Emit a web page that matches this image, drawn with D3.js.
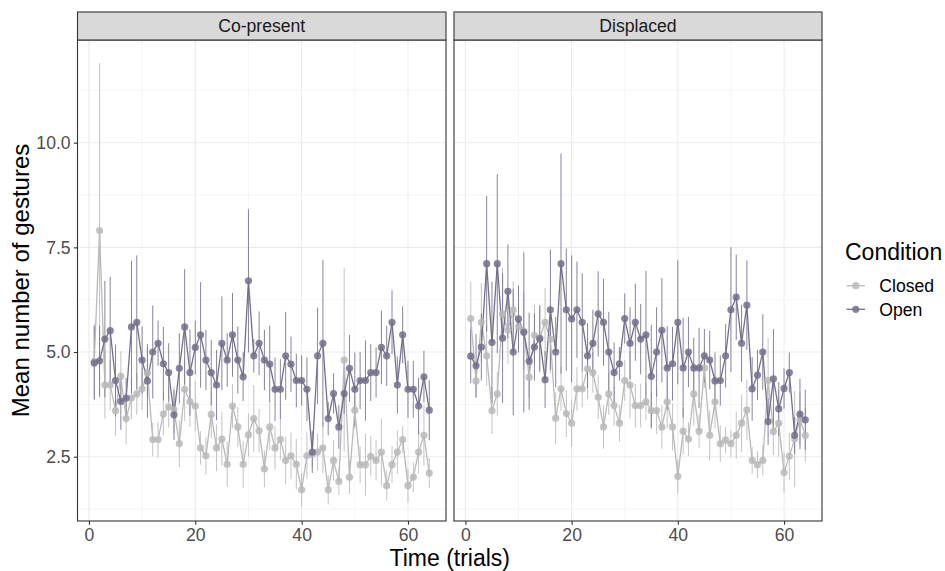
<!DOCTYPE html>
<html><head><meta charset="utf-8">
<script src="https://cdn.jsdelivr.net/npm/d3@7"></script>
<style>body{margin:0;background:#fff} text{font-family:"Liberation Sans",Arial,Helvetica,sans-serif}</style>
</head><body><svg id="c" width="945" height="571"></svg>
<script>
const trials = [1,2,3,4,5,6,7,8,9,10,11,12,13,14,15,16,17,18,19,20,21,22,23,24,25,26,27,28,29,30,31,32,
  33,34,35,36,37,38,39,40,41,42,43,44,45,46,47,48,49,50,51,52,53,54,55,56,57,58,59,60,61,62,63,64];
const panels = ["Co-present", "Displaced"];
const conditions = ["Closed", "Open"];
const xTicks = [0, 20, 40, 60];
const yTicks = [2.5, 5.0, 7.5, 10.0];

const copresentOpen = [4.74,4.79,5.31,5.51,4.32,3.82,3.90,5.60,5.71,4.81, 4.31,5.00,5.21,4.72,4.51,3.50,4.61,5.60,4.51,5.11,
  5.41,4.81,4.51,4.21,5.21,4.81,5.41,4.81,4.41,6.70, 4.91,5.21,4.81,4.71,4.11,4.11,4.91,4.71,4.32,4.32,
  4.11,2.61,4.91,5.21,3.41,4.01,3.21,4.01,4.61,4.11, 4.32,4.32,4.51,4.51,5.11,4.91,5.71,4.21,5.41,4.11, 4.11,3.71,4.41,3.61];
const copresentOpenErr = [0.88,0.84,1.39,1.29,0.86,0.68,0.48,1.58,1.60,0.80, 0.88,1.11,0.54,0.88,0.70,0.60,0.84,1.38,1.03,0.64,
  1.26,0.72,0.78,0.84,1.12,0.64,1.00,0.80,0.58,1.71, 0.40,0.76,0.72,0.92,0.76,0.72,1.05,0.66,0.64,0.60,
  0.76,0.50,1.15,1.99,0.40,0.48,0.52,0.48,0.80,0.88, 0.68,0.96,0.68,0.60,0.88,0.72,0.76,0.68,0.68,0.68, 0.68,0.68,0.62,0.72];
const copresentClosed = [4.78,7.90,4.21,4.21,3.60,4.42,3.41,3.90,4.00,4.12, 4.50,2.91,2.91,3.52,3.69,3.62,2.81,4.11,3.81,3.71,
  2.71,2.52,3.51,2.71,2.92,2.32,3.71,3.21,2.32,3.02, 3.41,3.12,2.21,3.21,2.71,2.91,2.41,2.52,2.32,1.71,
  2.52,2.56,2.61,2.71,1.71,2.41,1.91,4.81,2.01,3.61, 2.31,2.31,2.51,2.41,2.61,1.81,2.31,2.61,2.91,1.81, 2.01,2.61,3.01,2.11];
const copresentClosedErr = [0.90,4.00,0.80,0.60,0.60,0.60,0.62,0.50,0.50,0.50, 0.60,0.40,0.42,0.50,0.50,0.56,0.56,0.76,0.60,0.60,
  0.40,0.44,0.56,0.56,0.64,0.54,0.52,0.48,0.56,0.52, 0.80,0.52,0.44,0.56,0.52,0.48,0.56,0.56,0.60,0.40,
  0.56,0.32,0.44,0.60,0.35,0.48,0.32,2.19,0.40,0.44, 0.44,0.74,0.48,0.48,0.80,0.36,0.44,0.52,0.32,0.40, 0.36,0.52,0.72,0.36];
const displacedOpen = [4.90,4.67,5.12,7.11,5.23,7.11,5.33,6.45,5.00,5.79, 5.47,4.78,5.12,5.32,4.34,6.01,5.00,7.11,6.01,5.79,
  6.01,5.71,4.91,5.21,5.91,5.71,5.00,4.51,4.72,5.80, 5.21,5.71,5.31,5.41,4.42,5.00,5.52,4.62,4.72,5.71,
  4.62,5.00,4.62,4.62,4.91,4.81,4.31,4.32,4.91,6.01, 6.31,5.21,6.12,4.12,4.45,5.00,3.34,4.36,3.64,4.13, 4.51,3.01,3.52,3.38];
const displacedOpenErr = [0.64,0.76,0.80,1.62,1.45,2.14,1.55,1.12,1.51,0.80, 1.91,1.16,0.80,0.80,0.68,1.44,0.84,2.63,1.46,1.52,
  1.15,1.17,0.78,0.80,1.02,1.04,0.96,0.72,0.40,0.60, 0.86,0.92,0.84,1.53,1.23,1.07,1.25,1.00,0.88,1.48,
  1.19,0.84,0.72,0.96,0.64,0.70,0.68,0.60,0.76,1.49, 1.02,0.92,1.07,0.76,0.60,0.90,0.56,1.19,0.64,0.48, 0.48,0.44,0.84,0.72];
const displacedClosed = [5.80,4.31,5.71,4.91,3.60,4.00,5.91,5.52,6.01,5.60, 5.50,4.40,5.40,5.33,5.71,5.31,3.42,4.12,3.53,3.30,
  4.12,4.12,4.60,4.51,3.92,3.21,4.00,3.72,3.30,4.32, 4.21,3.72,3.72,3.81,3.60,3.60,3.21,3.81,3.21,2.03,
  3.11,2.92,4.00,3.11,4.62,3.01,3.81,2.81,2.90,2.81, 3.01,3.30,3.62,2.41,2.31,2.41,4.32,3.10,3.30,2.12, 2.51,2.92,3.40,3.01];
const displacedClosedErr = [0.88,0.40,0.94,0.72,0.56,0.52,1.10,0.80,0.68,0.56, 0.92,0.48,0.72,0.76,0.82,0.82,0.62,0.52,0.56,0.56,
  0.52,0.44,0.72,0.48,0.52,0.52,0.50,0.48,0.44,0.48, 0.80,0.52,0.52,0.44,0.44,0.56,0.52,0.64,0.56,0.40,
  0.56,0.40,0.76,0.40,0.48,0.60,0.64,0.44,0.32,0.32, 0.56,0.68,0.72,0.32,0.32,0.36,1.02,0.56,0.80,0.48, 0.56,1.15,0.64,0.64];

const seriesByPanel = {
  "Co-present": {Closed: [copresentClosed, copresentClosedErr], Open: [copresentOpen, copresentOpenErr]},
  "Displaced": {Closed: [displacedClosed, displacedClosedErr], Open: [displacedOpen, displacedOpenErr]}
};
const colors = {Closed: "#b9b9b9", Open: "#726f8c"};

const svg = d3.select("#c");
const TOP = 40, BOTTOM = 521, STRIP_TOP = 12;
const panelX = [[77.5, 446], [454, 822]];
const y = d3.scaleLinear().domain([0.964, 12.453]).range([BOTTOM, TOP]);
const FS = "17.6px";

panels.forEach((name, i) => {
  const [x0, x1] = panelX[i];
  const x = d3.scaleLinear().domain([-2.15, 67.15]).range([x0, x1]);
  const g = svg.append("g");
  g.append("rect").attr("x", x0).attr("y", TOP).attr("width", x1 - x0).attr("height", BOTTOM - TOP).attr("fill", "#fff");
  const yMinor = [1.25, 3.75, 6.25, 8.75, 11.25], xMinor = [10, 30, 50];
  g.selectAll(".ymin").data(yMinor).enter().append("line")
    .attr("x1", x0).attr("x2", x1).attr("y1", d => y(d)).attr("y2", d => y(d))
    .attr("stroke", "#ebebeb").attr("stroke-width", 0.55);
  g.selectAll(".xmin").data(xMinor).enter().append("line")
    .attr("y1", TOP).attr("y2", BOTTOM).attr("x1", d => x(d)).attr("x2", d => x(d))
    .attr("stroke", "#ebebeb").attr("stroke-width", 0.55);
  g.selectAll(".ymaj").data(yTicks).enter().append("line")
    .attr("x1", x0).attr("x2", x1).attr("y1", d => y(d)).attr("y2", d => y(d))
    .attr("stroke", "#ebebeb").attr("stroke-width", 1.1);
  g.selectAll(".xmaj").data(xTicks).enter().append("line")
    .attr("y1", TOP).attr("y2", BOTTOM).attr("x1", d => x(d)).attr("x2", d => x(d))
    .attr("stroke", "#ebebeb").attr("stroke-width", 1.1);

  const layers = conditions.map(c => {
    const [m, e] = seriesByPanel[name][c];
    return {c, pts: trials.map((t, k) => ({t, m: m[k], e: e[k]}))};
  });
  layers.forEach(L => {
    g.append("g").selectAll("line").data(L.pts).enter().append("line")
      .attr("x1", d => x(d.t)).attr("x2", d => x(d.t))
      .attr("y1", d => y(d.m - d.e)).attr("y2", d => y(d.m + d.e))
      .attr("stroke", colors[L.c]).attr("stroke-width", 1).attr("opacity", 0.85);
  });
  const line = d3.line().x(d => x(d.t)).y(d => y(d.m));
  layers.forEach(L => {
    g.append("path").datum(L.pts).attr("d", line).attr("fill", "none")
      .attr("stroke", colors[L.c]).attr("stroke-width", 1.3);
  });
  layers.forEach(L => {
    g.append("g").selectAll("circle").data(L.pts).enter().append("circle")
      .attr("cx", d => x(d.t)).attr("cy", d => y(d.m)).attr("r", 3.6)
      .attr("fill", colors[L.c]).attr("opacity", 0.85);
  });
  g.append("rect").attr("x", x0).attr("y", TOP).attr("width", x1 - x0).attr("height", BOTTOM - TOP)
    .attr("fill", "none").attr("stroke", "#333").attr("stroke-width", 1.1);
  g.append("rect").attr("x", x0).attr("y", STRIP_TOP).attr("width", x1 - x0).attr("height", TOP - STRIP_TOP)
    .attr("fill", "#d9d9d9").attr("stroke", "#333").attr("stroke-width", 1.1);
  g.append("text").attr("x", (x0 + x1) / 2).attr("y", (STRIP_TOP + TOP) / 2 + 6.3)
    .attr("text-anchor", "middle").attr("fill", "#1a1a1a").style("font-size", FS).text(name);
  const ax = g.append("g").attr("transform", `translate(0,${BOTTOM})`)
    .call(d3.axisBottom(x).tickValues(xTicks).tickSize(3.7).tickPadding(4.3));
  ax.select(".domain").remove();
  ax.selectAll("line").attr("stroke", "#333").attr("stroke-width", 1.1);
  ax.selectAll("text").attr("fill", "#4d4d4d").style("font-size", FS).style("font-family", '"Liberation Sans",Arial,sans-serif');
});

const ay = svg.append("g").attr("transform", `translate(${panelX[0][0]},0)`)
  .call(d3.axisLeft(y).tickValues(yTicks).tickFormat(d3.format(".1f")).tickSize(3.7).tickPadding(3.2));
ay.select(".domain").remove();
ay.selectAll("line").attr("stroke", "#333").attr("stroke-width", 1.1);
ay.selectAll("text").attr("fill", "#4d4d4d").style("font-size", FS).style("font-family", '"Liberation Sans",Arial,sans-serif');

svg.append("text").attr("x", (panelX[0][0] + panelX[1][1]) / 2).attr("y", 565.8)
  .attr("text-anchor", "middle").attr("fill", "#000").style("font-size", "23px").text("Time (trials)");
svg.append("text").attr("transform", `translate(28.5,${(TOP + BOTTOM) / 2}) rotate(-90)`)
  .attr("text-anchor", "middle").attr("fill", "#000").style("font-size", "24px").text("Mean number of gestures");

const lg = svg.append("g");
lg.append("text").attr("x", 845).attr("y", 260).attr("fill", "#000").style("font-size", "23px").text("Condition");
const keyY = [285.7, 309.3];
conditions.forEach((c, k) => {
  lg.append("line").attr("x1", 846.5).attr("x2", 865).attr("y1", keyY[k]).attr("y2", keyY[k])
    .attr("stroke", colors[c]).attr("stroke-width", 1.3);
  lg.append("circle").attr("cx", 855.8).attr("cy", keyY[k]).attr("r", 3.6).attr("fill", colors[c]).attr("opacity", 0.85);
  lg.append("text").attr("x", 879.3).attr("y", keyY[k] + 6.4).attr("fill", "#000").style("font-size", FS).text(c);
});
</script></body></html>
